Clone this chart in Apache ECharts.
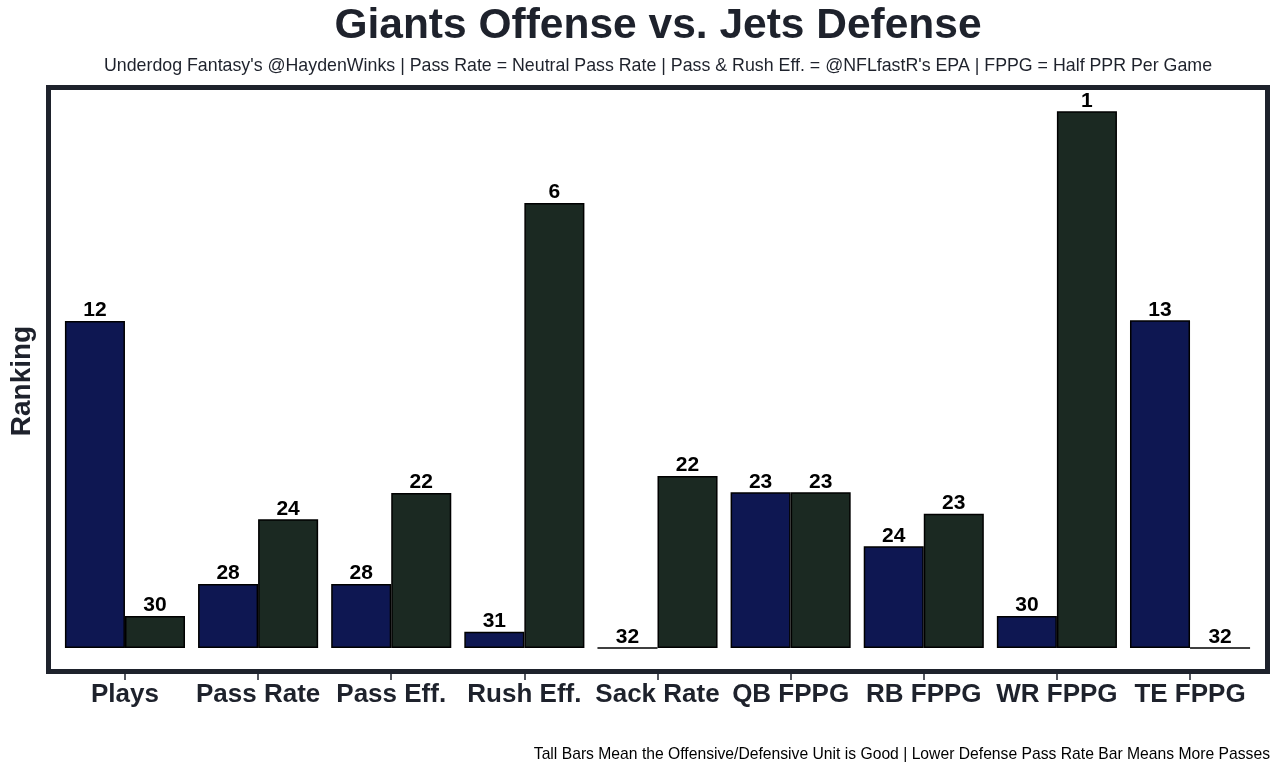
<!DOCTYPE html>
<html>
<head>
<meta charset="utf-8">
<script src="https://cdn.jsdelivr.net/npm/echarts@6/dist/echarts.min.js"></script>
<style>
html,body{margin:0;padding:0;background:#fff;}
#chart{width:1280px;height:774px;}
</style>
</head>
<body>
<div id="chart"></div>
<script>
const categories = ['Plays','Pass Rate','Pass Eff.','Rush Eff.','Sack Rate','QB FPPG','RB FPPG','WR FPPG','TE FPPG'];
// bar heights (share of plot height, %)
const offenseHeight = [58.2, 11.4, 11.4, 2.9, 0, 27.7, 18.1, 5.7, 58.3];
const defenseHeight = [5.7, 22.9, 27.6, 79.2, 30.6, 27.7, 23.9, 95.5, 0];
// ranks shown as labels
const offenseRank = [12, 28, 28, 31, 32, 23, 24, 30, 13];
const defenseRank = [30, 24, 22, 6, 22, 23, 23, 1, 32];

const FONT = 'Liberation Sans, Arial, sans-serif';
const DARK = '#1e222c';

const chart = echarts.init(document.getElementById('chart'), null, {renderer:'canvas'});
const labelStyle = (ranks) => ({
  show: true,
  position: 'top',
  distance: 0,
  fontFamily: FONT,
  fontWeight: 'bold',
  fontSize: 21,
  color: '#000',
  formatter: p => String(ranks[p.dataIndex])
});
chart.setOption({
  animation: false,
  backgroundColor: '#fff',
  grid: {left: 58.4, right: 23.4, top: 86, bottom: 100, containLabel: false},
  xAxis: {
    type: 'category',
    data: categories,
    axisLine: {show: false, onZero: false},
    axisTick: {show: true, alignWithLabel: true, length: 6, lineStyle: {color: DARK, width: 1.5}},
    axisLabel: {fontFamily: FONT, fontWeight: 'bold', fontSize: 26, color: DARK, margin: 8, interval: 0}
  },
  yAxis: {
    type: 'value', min: -4.626, max: 100,
    axisLine: {show: false}, axisTick: {show: false}, axisLabel: {show: false}, splitLine: {show: false}
  },
  series: [
    {
      name: 'Giants Offense', type: 'bar', data: offenseHeight,
      barGap: '0%', barCategoryGap: '9.8%',
      itemStyle: {color: '#0e1752', borderColor: '#000', borderWidth: 1.5},
      label: labelStyle(offenseRank)
    },
    {
      name: 'Jets Defense', type: 'bar', data: defenseHeight,
      barGap: '0%', barCategoryGap: '9.8%',
      itemStyle: {color: '#1b2922', borderColor: '#000', borderWidth: 1.5},
      label: labelStyle(defenseRank)
    }
  ],
  graphic: [
    {type: 'rect', shape: {x: 48.5, y: 87.5, width: 1219, height: 584},
     style: {fill: 'none', stroke: DARK, lineWidth: 5}, z: 100},
    {type: 'text', x: 658, y: 26,
     style: {text: 'Giants Offense vs. Jets Defense', font: 'bold 42.5px ' + FONT, fill: DARK, textAlign: 'center', textVerticalAlign: 'middle'}},
    {type: 'text', x: 658, y: 66,
     style: {text: "Underdog Fantasy's @HaydenWinks | Pass Rate = Neutral Pass Rate | Pass & Rush Eff. = @NFLfastR's EPA | FPPG = Half PPR Per Game", font: '17.8px ' + FONT, fill: DARK, textAlign: 'center', textVerticalAlign: 'middle'}},
    {type: 'text', x: 22, y: 381, rotation: Math.PI / 2,
     style: {text: 'Ranking', font: 'bold 28px ' + FONT, fill: DARK, textAlign: 'center', textVerticalAlign: 'middle'}},
    {type: 'text', x: 1270, y: 755,
     style: {text: 'Tall Bars Mean the Offensive/Defensive Unit is Good | Lower Defense Pass Rate Bar Means More Passes', font: '15.7px ' + FONT, fill: '#000', textAlign: 'right', textVerticalAlign: 'middle'}}
  ]
});
</script>
</body>
</html>
